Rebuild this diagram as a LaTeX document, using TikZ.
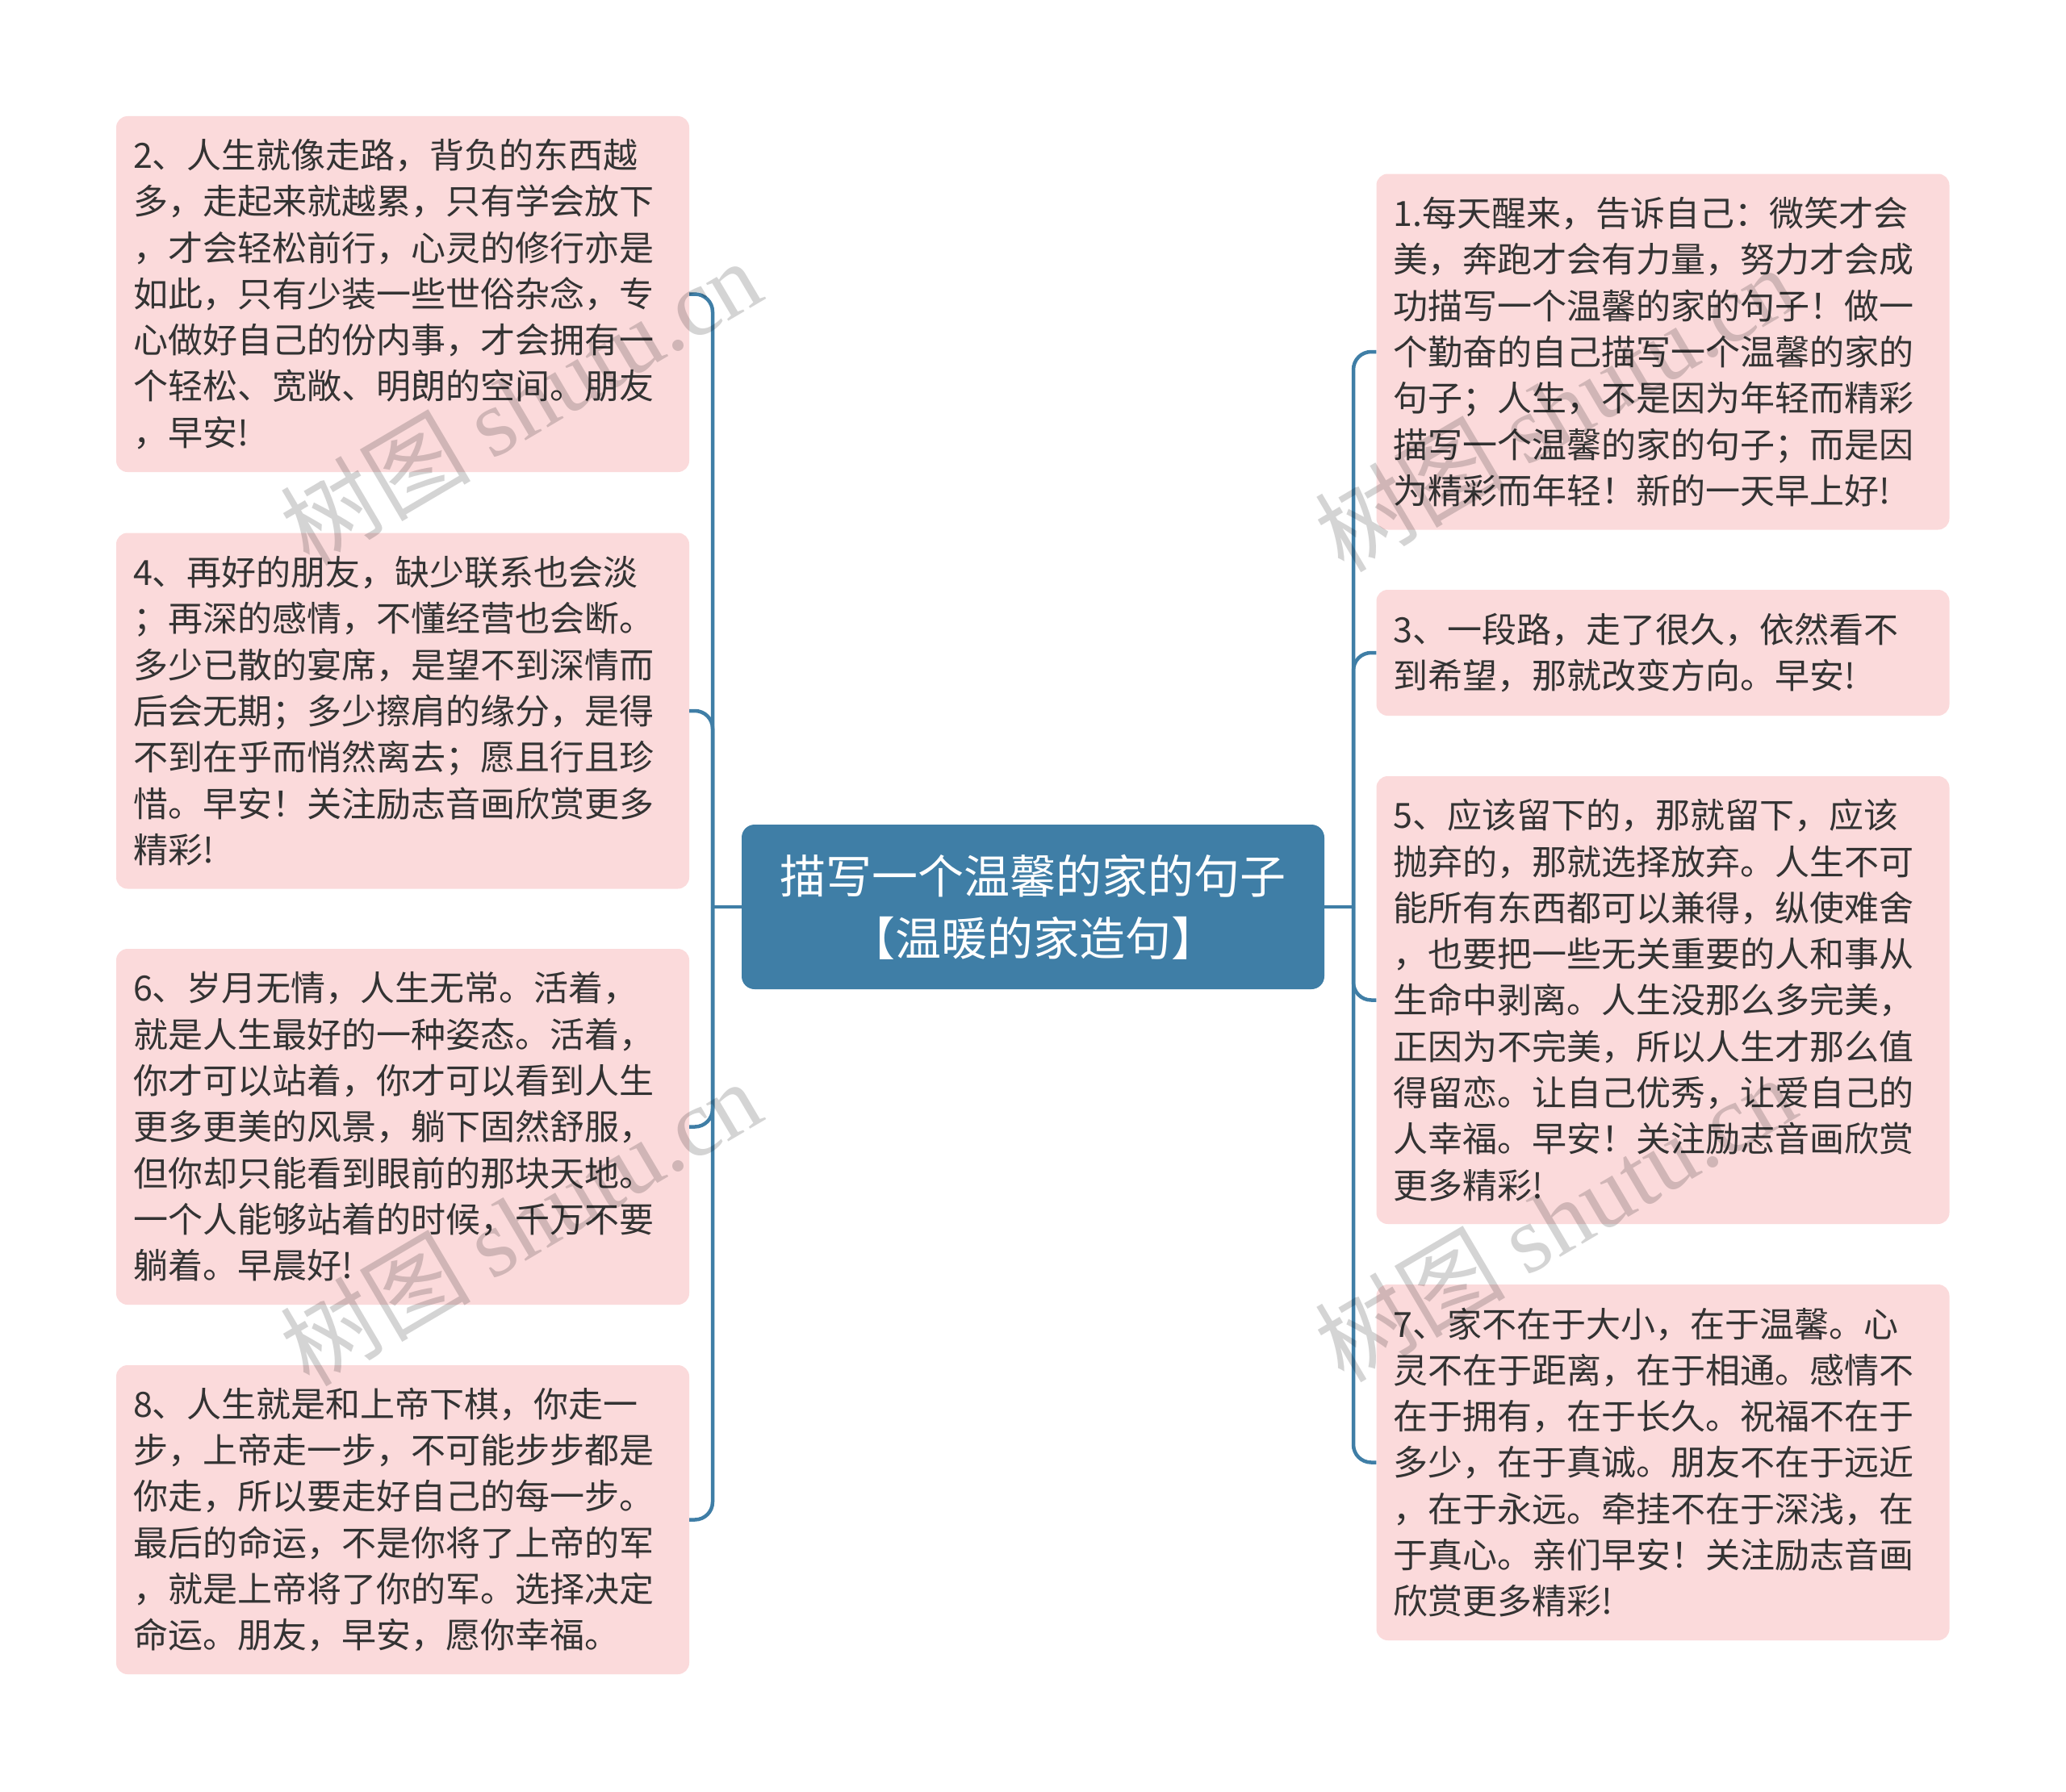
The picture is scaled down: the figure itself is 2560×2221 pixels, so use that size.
\documentclass[tikz,border=0pt]{standalone}
\usepackage{fontspec}
\setmainfont{Noto Sans CJK SC}
\newfontfamily\wmlatin{Liberation Serif}
\definecolor{linecol}{RGB}{63,126,166}
\definecolor{boxpink}{RGB}{251,218,219}
\definecolor{txt}{RGB}{51,51,51}
\tikzset{
  conn/.style={draw=linecol, line width=4.5pt, rounded corners=22pt},
  leafbox/.style={fill=boxpink, rounded corners=14pt, text=txt, align=left,
    text width=668pt, inner xsep=21pt, inner ysep=0pt,
    font=\fontsize{43}{57.3}\selectfont},
  rootbox/.style={fill=linecol, rounded corners=16pt, text=white, align=center,
    minimum width=722pt, minimum height=204pt, inner sep=0pt,
    font=\fontsize{57}{77}\selectfont},
  wmark/.style={text=black, opacity=0.17, rotate=30.5, inner sep=0pt,
    font=\fontsize{118}{118}\selectfont}
}
\begin{document}
\begin{tikzpicture}[x=1pt, y=-1pt]
\useasboundingbox (0,0) rectangle (2560,2221);

% root
\node[rootbox] (root) at (1280,1124) {描写一个温馨的家的句子\\【温暖的家造句】};

% left leaves
\node[leafbox, minimum height=441pt] (n2) at (499,364.5) {2、人生就像走路，背负的东西越\\多，走起来就越累，只有学会放下\\，才会轻松前行，心灵的修行亦是\\如此，只有少装一些世俗杂念，专\\心做好自己的份内事，才会拥有一\\个轻松、宽敞、明朗的空间。朋友\\，早安!};
\node[leafbox, minimum height=441pt] (n4) at (499,881) {4、再好的朋友，缺少联系也会淡\\；再深的感情，不懂经营也会断。\\多少已散的宴席，是望不到深情而\\后会无期；多少擦肩的缘分，是得\\不到在乎而悄然离去；愿且行且珍\\惜。早安！关注励志音画欣赏更多\\精彩!};
\node[leafbox, minimum height=441pt] (n6) at (499,1396.5) {6、岁月无情，人生无常。活着，\\就是人生最好的一种姿态。活着，\\你才可以站着，你才可以看到人生\\更多更美的风景，躺下固然舒服，\\但你却只能看到眼前的那块天地。\\一个人能够站着的时候，千万不要\\躺着。早晨好!};
\node[leafbox, minimum height=383pt] (n8) at (499,1883.5) {8、人生就是和上帝下棋，你走一\\步，上帝走一步，不可能步步都是\\你走，所以要走好自己的每一步。\\最后的命运，不是你将了上帝的军\\，就是上帝将了你的军。选择决定\\命运。朋友，早安，愿你幸福。};

% right leaves
\node[leafbox, minimum height=441pt] (n1) at (2060.5,436) {1.每天醒来，告诉自己：微笑才会\\美，奔跑才会有力量，努力才会成\\功描写一个温馨的家的句子！做一\\个勤奋的自己描写一个温馨的家的\\句子；人生，不是因为年轻而精彩\\描写一个温馨的家的句子；而是因\\为精彩而年轻！新的一天早上好!};
\node[leafbox, minimum height=156pt] (n3) at (2060.5,809) {3、一段路，走了很久，依然看不\\到希望，那就改变方向。早安!};
\node[leafbox, minimum height=555pt] (n5) at (2060.5,1239.5) {5、应该留下的，那就留下，应该\\抛弃的，那就选择放弃。人生不可\\能所有东西都可以兼得，纵使难舍\\，也要把一些无关重要的人和事从\\生命中剥离。人生没那么多完美，\\正因为不完美，所以人生才那么值\\得留恋。让自己优秀，让爱自己的\\人幸福。早安！关注励志音画欣赏\\更多精彩!};
\node[leafbox, minimum height=441pt] (n7) at (2060.5,1812.5) {7、家不在于大小，在于温馨。心\\灵不在于距离，在于相通。感情不\\在于拥有，在于长久。祝福不在于\\多少，在于真诚。朋友不在于远近\\，在于永远。牵挂不在于深浅，在\\于真心。亲们早安！关注励志音画\\欣赏更多精彩!};

% junctions
\coordinate (jl) at (883,1124);
\coordinate (jr) at (1677,1124);

% connectors
\draw[conn] (root.west) -- (jl);
\draw[conn] (root.east) -- (jr);
\foreach \n in {n2,n4,n6,n8} { \draw[conn] (jl) |- (\n.east); }
\foreach \n in {n1,n3,n5,n7} { \draw[conn] (jr) |- (\n.west); }

% watermarks
\node[wmark] (w1) at (645,498) {树图 {\wmlatin shutu.cn}};
\node[wmark] (w2) at (645,1515) {树图 {\wmlatin shutu.cn}};
\node[wmark] (w3) at (1927,506) {树图 {\wmlatin shutu.cn}};
\node[wmark] (w4) at (1927,1510) {树图 {\wmlatin shutu.cn}};
\end{tikzpicture}
\end{document}
